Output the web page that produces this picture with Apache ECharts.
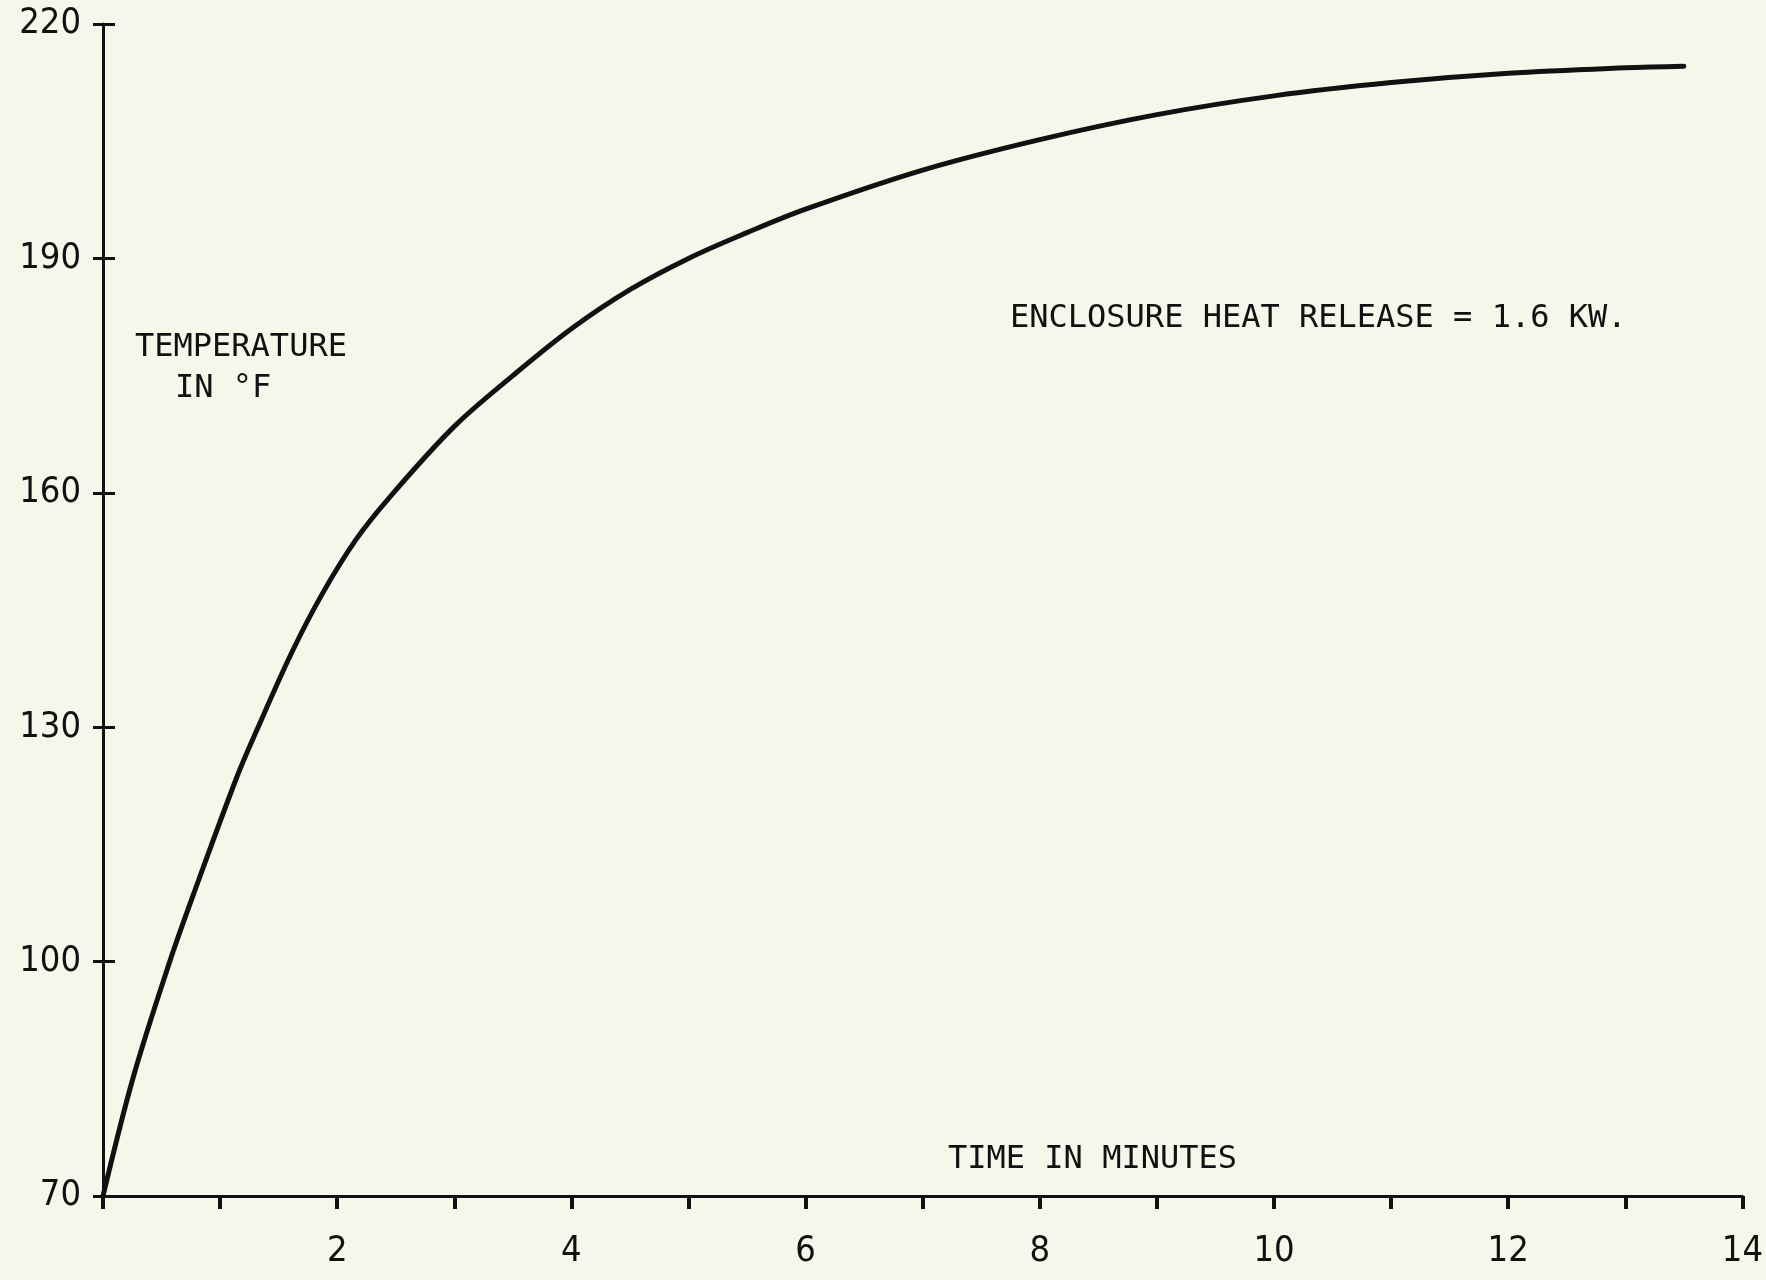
<!DOCTYPE html>
<html>
<head>
<meta charset="utf-8">
<script src="https://cdn.jsdelivr.net/npm/echarts@6/dist/echarts.min.js"></script>
<style>
html,body{margin:0;padding:0;background:#f5f7ea;}
#chart{width:1766px;height:1280px;}
</style>
</head>
<body>
<div id="chart"></div>
<script>
// Time in minutes
const timeMin = [0, 0.26, 0.57, 0.77, 1.14, 1.31, 1.61, 1.87, 2.16, 2.44, 3, 3.5, 4, 4.5, 5, 5.5, 6, 7, 8, 9, 10, 11, 12, 13, 13.5];
// Temperature in °F
const tempF  = [70, 85.3, 100, 108.5, 123.5, 129.5, 139.5, 147, 154, 159.3, 168.5, 175, 181, 186, 190, 193.3, 196.3, 201.3, 205.2, 208.4, 210.8, 212.5, 213.7, 214.4, 214.6];
const yTicks = [70, 100, 130, 160, 190, 220];
const xLabels = [2, 4, 6, 8, 10, 12, 14];

const ink = '#111';
const monoFont = 'DejaVu Sans Mono';
const numFont = '"Liberation Sans Narrow", "DejaVu Sans Condensed", sans-serif';
const chart = echarts.init(document.getElementById('chart'), null, {renderer: 'canvas'});
const pts = timeMin.map((t, i) => [t, tempF[i]]);

chart.setOption({
  backgroundColor: '#f5f7ea',
  animation: false,
  grid: {left: 103, right: 15, top: 24, bottom: 84, containLabel: false},
  xAxis: {
    type: 'value', min: 0, max: 14, interval: 1,
    axisLine: {lineStyle: {color: ink, width: 3}},
    axisTick: {show: true, length: 13, lineStyle: {color: ink, width: 4}},
    splitLine: {show: false},
    axisLabel: {
      color: ink, fontFamily: numFont, fontSize: 36, margin: 38,
      formatter: v => xLabels.includes(v) ? String(v) : ''
    }
  },
  yAxis: [{
    type: 'value', min: yTicks[0], max: yTicks[yTicks.length - 1], interval: 30,
    axisLine: {lineStyle: {color: ink, width: 3}},
    axisTick: {show: true, length: 10, lineStyle: {color: ink, width: 3}},
    splitLine: {show: false},
    axisLabel: {color: ink, fontFamily: numFont, fontSize: 36, margin: 22}
  }, {
    type: 'value', min: yTicks[0], max: yTicks[yTicks.length - 1], interval: 30,
    position: 'left',
    axisLine: {show: false},
    axisTick: {show: true, inside: true, length: 12, lineStyle: {color: ink, width: 3}},
    splitLine: {show: false},
    axisLabel: {show: false}
  }],
  graphic: [
    {type: 'text', left: 135, top: 332, style: {text: 'TEMPERATURE', font: '32px "' + monoFont + '"', fill: ink}},
    {type: 'text', left: 175, top: 373, style: {text: 'IN °F', font: '32px "' + monoFont + '"', fill: ink}},
    {type: 'text', left: 1010, top: 303, style: {text: 'ENCLOSURE HEAT RELEASE = 1.6 KW.', font: '32px "' + monoFont + '"', fill: ink}},
    {type: 'text', left: 948, top: 1144, style: {text: 'TIME IN MINUTES', font: '32px "' + monoFont + '"', fill: ink}}
  ],
  series: [{
    type: 'line', data: pts, smooth: 0.35, showSymbol: false,
    lineStyle: {color: ink, width: 5, cap: 'round'}
  }]
});
</script>
</body>
</html>
